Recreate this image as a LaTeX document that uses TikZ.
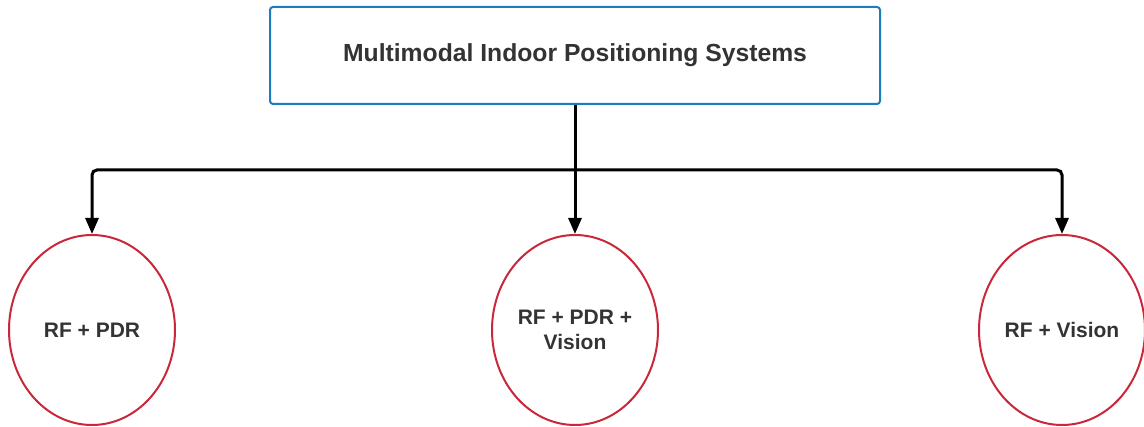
\documentclass[tikz,border=0pt]{standalone}
\usepackage{fontspec}
\setmainfont{Liberation Sans}
\usetikzlibrary{arrows.meta,shapes.geometric}
\definecolor{boxblue}{HTML}{1B7CC0}
\definecolor{ovalred}{HTML}{C8283A}
\definecolor{textgray}{HTML}{333333}
\tikzset{
  topbox/.style={draw=boxblue, line width=2pt, rounded corners=3pt, minimum width=610pt, minimum height=97pt, fill=white, text=textgray, font=\bfseries\fontsize{24.7}{29}\selectfont},
  oval/.style={draw=ovalred, line width=2pt, ellipse, minimum width=166pt, minimum height=190pt, inner sep=0pt, text=textgray, align=center, font=\bfseries\fontsize{21}{25}\selectfont},
  trunk/.style={line width=3pt, draw=black},
  link/.style={line width=3pt, draw=black, rounded corners=5pt, -{Triangle[width=13pt,length=16pt]}}
}
\begin{document}
\begin{tikzpicture}[x=1pt,y=-1pt]
  \useasboundingbox (0,0) rectangle (1144,427);
  \node[topbox] (root) at (575,55.5) {Multimodal Indoor Positioning Systems};
  \node[oval] (a) at (92,330) {RF + PDR};
  \node[oval] (b) at (575,330) {RF + PDR +\\Vision};
  \node[oval] (c) at (1062,330) {RF + Vision};
  \coordinate (j) at (575,170);
  \draw[trunk] (root.south) -- (j);
  \draw[link] (j) -| (a.north);
  \draw[link] (j) -| (c.north);
  \draw[link] (j) -- (b.north);
\end{tikzpicture}
\end{document}
